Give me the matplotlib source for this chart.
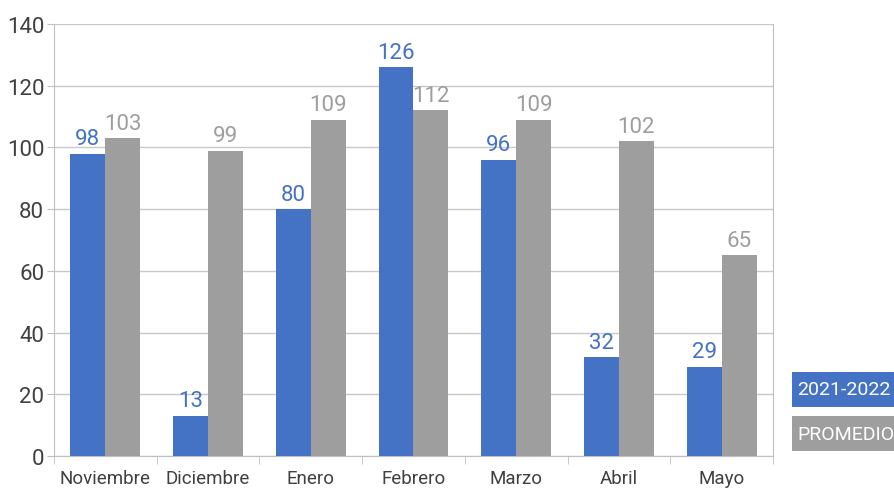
import numpy as np
import matplotlib.pyplot as plt
from matplotlib.patches import Rectangle

plt.rcParams['font.family'] = ['Roboto', 'DejaVu Sans']

meses = ["Noviembre", "Diciembre", "Enero", "Febrero", "Marzo", "Abril", "Mayo"]
temporada = [98, 13, 80, 126, 96, 32, 29]
promedio = [103, 99, 109, 112, 109, 102, 65]

azul = "#4472C4"
gris = "#9E9E9F"

fig = plt.figure(figsize=(8.95, 4.89), dpi=100)
ax = fig.add_axes([0.0603, 0.0654, 0.8034, 0.8835])

x = np.arange(len(meses))
w = 0.34
b1 = ax.bar(x - w / 2, temporada, w, color=azul, zorder=3)
b2 = ax.bar(x + w / 2, promedio, w, color=gris, zorder=3)

for rect, v in zip(b1, temporada):
    ax.text(rect.get_x() + rect.get_width() / 2, v + 1.5, str(v), ha="center", va="bottom",
            color=azul, fontsize=16)
for rect, v in zip(b2, promedio):
    ax.text(rect.get_x() + rect.get_width() / 2, v + 1.5, str(v), ha="center", va="bottom",
            color=gris, fontsize=16)

ax.set_xlim(-0.5, len(meses) - 0.5)
ax.set_ylim(0, 140)
ax.set_yticks(range(0, 141, 20))
ax.yaxis.grid(True, color="#C8C8C8", linewidth=1, zorder=0)
ax.set_xticks(x)
ax.set_xticklabels(meses, fontsize=13.5, color="#404040")
ax.set_xticks(np.arange(-0.5, len(meses), 1), minor=True)
ax.tick_params(axis="x", which="major", length=0, pad=9)
ax.tick_params(axis="x", which="minor", length=6, color="#BFBFBF")
ax.tick_params(axis="y", length=5, color="#BFBFBF", labelsize=16, labelcolor="#404040", pad=2)
for s in ax.spines.values():
    s.set_color("#BFBFBF")
ax.spines["top"].set_visible(False)

# leyenda como cajas con texto
W, H = 895.0, 489.0
for y0, txt, col in [(373, "2021-2022", azul), (417, "PROMEDIO", gris)]:
    fig.patches.append(Rectangle((792 / W, 1 - (y0 + 35) / H), 110 / W, 35 / H,
                                 transform=fig.transFigure, facecolor=col, edgecolor="none"))
    fig.text(797 / W, 1 - (y0 + 17.5) / H, txt, color="white", fontsize=14,
             va="center", ha="left")

fig.savefig("out.png", dpi=100)
